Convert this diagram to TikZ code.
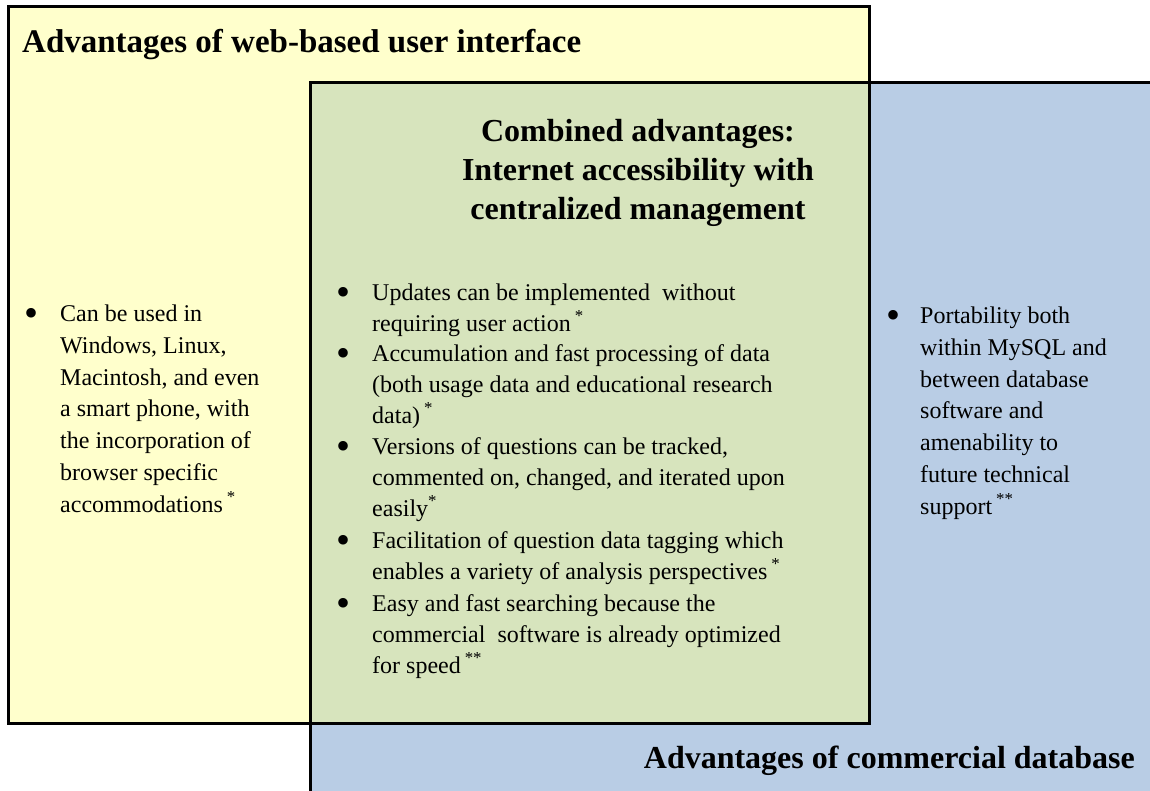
\documentclass[tikz,border=0pt]{standalone}
\usepackage{fontspec}
\setmainfont{Liberation Serif}
\definecolor{webyellow}{HTML}{FFFFCC}
\definecolor{dbblue}{HTML}{B9CDE5}
\definecolor{bothgreen}{HTML}{D7E4BD}
\newcommand{\dotmark}[1]{\llap{\raisebox{-5pt}{\fontsize{40}{0}\selectfont\textbullet}\hspace{#1}}}

\begin{document}
\begin{tikzpicture}[x=1pt, y=-1pt,
    heading/.style={font=\fontsize{32}{39}\selectfont\bfseries, inner sep=0pt},
    point/.style={font=\fontsize{24}{31}\selectfont, align=left, inner sep=0pt, anchor=base west},
    sidepoint/.style={point, font=\fontsize{24}{31.7}\selectfont},
    frame/.style={line width=3pt}]
  \useasboundingbox (0,0) rectangle (1150,791);
  \fill[webyellow] (8,7) rectangle (869,723);
  \fill[dbblue] (310,83) rectangle (1150,791);
  \fill[bothgreen] (310,83) rectangle (869,723);
  \draw[frame] (8,7) rectangle (869,723);
  \draw[frame] (1150,83) -| (310,791);

  \node[heading, font=\fontsize{33}{39}\selectfont\bfseries, anchor=base west] (webhead) at (22,53)
    {Advantages of web-based user interface};
  \node[heading, anchor=base east] (dbhead) at (1135,768) {Advantages of commercial database};
  \node[heading, align=center, anchor=base] (bothhead) at (638,220)
    {Combined advantages:\\Internet accessibility with\\centralized management};

  \node[sidepoint] (webpoint) at (60,512) {\dotmark{22pt}Can be used in\\
    Windows, Linux,\\Macintosh, and even\\a smart phone, with\\the incorporation of\\
    browser specific\\accommodations\,\textsuperscript{*}};

  \node[sidepoint] (dbpoint) at (920,514) {\dotmark{20pt}Portability both\\
    within MySQL and\\between database\\software and\\amenability to\\
    future technical\\support\,\textsuperscript{**}};

  \node[point] (update) at (372,331) {\dotmark{22pt}Updates can be implemented\ \ without\\
    requiring user action\,\textsuperscript{*}};
  \node[point] (collect) at (372,423) {\dotmark{22pt}Accumulation and fast processing of data\\
    (both usage data and educational research\\data)\,\textsuperscript{*}};
  \node[point] (version) at (372,516) {\dotmark{22pt}Versions of questions can be tracked,\\
    commented on, changed, and iterated upon\\easily\textsuperscript{*}};
  \node[point] (tagging) at (372,579) {\dotmark{22pt}Facilitation of question data tagging which\\
    enables a variety of analysis perspectives\,\textsuperscript{*}};
  \node[point] (search) at (372,673) {\dotmark{22pt}Easy and fast searching because the\\
    commercial\ \ software is already optimized\\for speed\,\textsuperscript{**}};
\end{tikzpicture}
\end{document}
